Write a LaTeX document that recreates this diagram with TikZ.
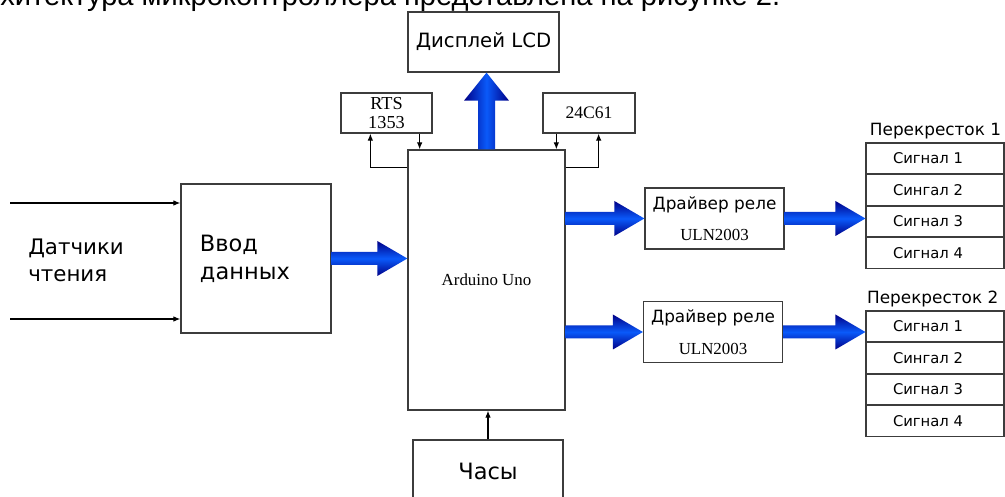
\documentclass[tikz,border=0pt]{standalone}
\usepackage{fontspec}
\setmainfont{DejaVu Sans}
\newfontfamily\chipfont{Liberation Serif}
\newfontfamily\pagefont{Liberation Sans}
\usetikzlibrary{arrows.meta, positioning, calc}
\definecolor{boxgray}{RGB}{60,60,60}
\definecolor{arrdark}{RGB}{0,0,135}
\definecolor{arrlight}{RGB}{10,90,250}

% fat blue arrow pointing right, from #1 to the tip #2
\newcommand{\fatarrow}[2]{%
  \shade[fatr] ($(#1)+(0,-6.5)$) -- ($(#2)+(-30,-6.5)$) -- ($(#2)+(-30,-17.5)$)
    -- (#2) -- ($(#2)+(-30,17.5)$) -- ($(#2)+(-30,6.5)$) -- ($(#1)+(0,6.5)$) -- cycle;}

\begin{document}
\begin{tikzpicture}[x=0.025cm, y=-0.025cm,
  blk/.style={rectangle, draw=boxgray, line width=0.9pt, fill=white, inner sep=2pt},
  chip/.style={blk, font=\chipfont\fontsize{13}{13.5}\selectfont, align=center},
  sigrow/.style={rectangle, draw=boxgray, line width=0.8pt,
                 minimum width=3.45cm, minimum height=0.7625cm,
                 text width=2.1cm, inner xsep=0.675cm, inner ysep=0pt,
                 align=left, font=\fontsize{10.5}{12}\selectfont},
  sarr/.style={-{Latex[length=5pt,width=4pt]}, line width=0.8pt},
  fatr/.style={top color=arrdark, bottom color=arrdark, middle color=arrlight},
  fatu/.style={left color=arrdark, right color=arrdark, middle color=arrlight}
]
\useasboundingbox (0,0) rectangle (1005,497);
\clip (0,0) rectangle (1005,497);

% line of the page above the figure
\node[anchor=base west, inner sep=0, font=\pagefont\fontsize{20.7}{22}\selectfont] (intro) at (0,6)
  {\llap{Ар}хитектура микроконтроллера представлена на рисунке 2.};

% centre column
\node[blk, minimum width=3.775cm, minimum height=1.5cm, font=\fontsize{14}{16}\selectfont] (lcd) at (483.5,42) {Дисплей LCD};
\node[chip, minimum width=2.275cm, minimum height=1cm] (rts) at (386.5,113) {RTS\\1353};
\node[chip, minimum width=2.3cm, minimum height=1cm, font=\chipfont\fontsize{12.5}{13}\selectfont] (eep) at (589,113) {24C61};
\node[blk, minimum width=3.925cm, minimum height=6.5cm, font=\chipfont\fontsize{12}{13}\selectfont] (ard) at (486.5,280) {Arduino Uno};
\node[blk, minimum width=3.75cm, minimum height=1.55cm, font=\fontsize{16}{18}\selectfont] (clk) at (488,471) {Часы};

% left: sensors and input
\node[blk, minimum width=3.75cm, minimum height=3.725cm, text width=2.8cm, inner xsep=0.475cm,
      align=left, font=\fontsize{16}{20}\selectfont] (vvod) at (256,258.5) {Ввод\\данных};
\node[anchor=west, inner sep=0, align=left, font=\fontsize{15.2}{19.2}\selectfont] (sens) at (28,260.5) {Датчики\\чтения};
\coordinate (in1) at (10,203);
\coordinate (in2) at (10,319);

% right: relay drivers
\node[blk, minimum width=3.475cm, minimum height=1.525cm, align=center, font=\fontsize{12}{14}\selectfont] (drv1) at (714.5,218.5)
  {Драйвер реле\\[8.5pt]{\chipfont\fontsize{12}{13}\selectfont ULN2003}};
\node[blk, minimum width=3.475cm, minimum height=1.525cm, align=center, font=\fontsize{12}{14}\selectfont] (drv2) at (713,332)
  {Драйвер реле\\[8.5pt]{\chipfont\fontsize{12}{13}\selectfont ULN2003}};

% crossroads tables
\node[sigrow] (t1a) at (935,158.25) {Сигнал 1};
\node[sigrow, below=0pt of t1a] (t1b) {Сингал 2};
\node[sigrow, below=0pt of t1b] (t1c) {Сигнал 3};
\node[sigrow, below=0pt of t1c] (t1d) {Сигнал 4};
\node[anchor=south west, inner xsep=3pt, inner ysep=2pt, font=\fontsize{12}{14}\selectfont] (x1) at (t1a.north west) {Перекресток 1};

\node[sigrow] (t2a) at (935,326.25) {Сигнал 1};
\node[sigrow, below=0pt of t2a] (t2b) {Сингал 2};
\node[sigrow, below=0pt of t2b] (t2c) {Сигнал 3};
\node[sigrow, below=0pt of t2c] (t2d) {Сигнал 4};
\node[anchor=south west, inner xsep=1pt, inner ysep=2pt, font=\fontsize{12}{14}\selectfont] (x2) at (t2a.north west) {Перекресток 2};

% thin arrows
\draw[sarr] (in1) -- (in1 -| vvod.west);
\draw[sarr] (in2) -- (in2 -| vvod.west);
\draw[sarr] ($(rts.south east)+(-13,0)$) coordinate (r1) -- (r1 |- ard.north);
\draw[sarr] ($(ard.north west)+(0,18)$) -| ($(rts.south west)+(30,0)$);
\draw[sarr] ($(eep.south west)+(14,0)$) coordinate (e1) -- (e1 |- ard.north);
\draw[sarr] ($(ard.north east)+(0,18)$) -| ($(eep.south east)+(-37,0)$);
\draw[sarr] (clk.north) -- (clk.north |- ard.south);

% fat arrows
\shade[fatu] ($(ard.north)+(-8.5,0)$) -- ($(ard.north |- lcd.south)+(-8.5,28)$)
  -- ($(ard.north |- lcd.south)+(-22.5,28)$) -- (ard.north |- lcd.south)
  -- ($(ard.north |- lcd.south)+(22.5,28)$) -- ($(ard.north |- lcd.south)+(8.5,28)$)
  -- ($(ard.north)+(8.5,0)$) -- cycle;
\fatarrow{vvod.east}{vvod.east -| ard.west}
\fatarrow{ard.east |- drv1.west}{drv1.west}
\fatarrow{ard.east |- drv2.west}{drv2.west}
\fatarrow{drv1.east}{drv1.east -| t1a.west}
\fatarrow{drv2.east}{drv2.east -| t2a.west}

\end{tikzpicture}
\end{document}
